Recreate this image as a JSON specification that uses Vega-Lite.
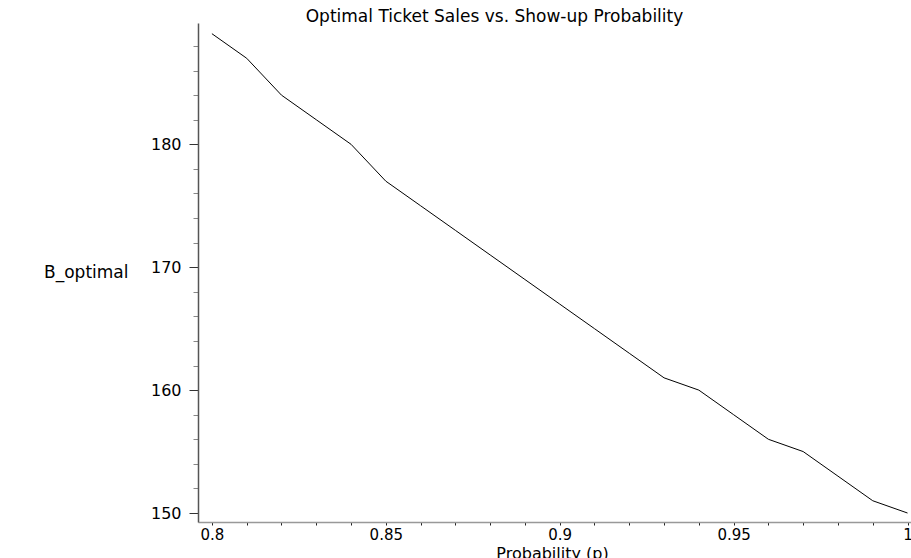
{
  "$schema": "https://vega.github.io/schema/vega-lite/v6.json",
  "autosize": {"type": "none"},
  "width": 713,
  "height": 499,
  "padding": {"left": 198, "top": 23, "right": 0, "bottom": 36},
  "background": "white",
  "title": {
    "text": "Optimal Ticket Sales vs. Show-up Probability",
    "anchor": "middle",
    "frame": "group",
    "dx": -60,
    "dy": 20,
    "offset": 4,
    "baseline": "alphabetic",
    "font": "DejaVu Sans",
    "fontSize": 17,
    "fontWeight": "normal",
    "color": "#000"
  },
  "data": {
    "values": [
      {"p": 0.80, "B": 189},
      {"p": 0.81, "B": 187},
      {"p": 0.82, "B": 184},
      {"p": 0.83, "B": 182},
      {"p": 0.84, "B": 180},
      {"p": 0.85, "B": 177},
      {"p": 0.86, "B": 175},
      {"p": 0.87, "B": 173},
      {"p": 0.88, "B": 171},
      {"p": 0.89, "B": 169},
      {"p": 0.90, "B": 167},
      {"p": 0.91, "B": 165},
      {"p": 0.92, "B": 163},
      {"p": 0.93, "B": 161},
      {"p": 0.94, "B": 160},
      {"p": 0.95, "B": 158},
      {"p": 0.96, "B": 156},
      {"p": 0.97, "B": 155},
      {"p": 0.98, "B": 153},
      {"p": 0.99, "B": 151},
      {"p": 1.00, "B": 150}
    ]
  },
  "mark": {"type": "line", "color": "#000", "strokeWidth": 1},
  "encoding": {
    "x": {
      "field": "p",
      "type": "quantitative",
      "scale": {"domain": [0.796, 1.001], "nice": false, "zero": false},
      "axis": {
        "title": "Probability (p)",
        "values": [0.8, 0.81, 0.82, 0.83, 0.84, 0.85, 0.86, 0.87, 0.88, 0.89, 0.9, 0.91, 0.92, 0.93, 0.94, 0.95, 0.96, 0.97, 0.98, 0.99, 1.0],
        "labelExpr": "round(datum.value*100) % 5 == 0 ? format(datum.value, '~g') : ''",
        "grid": false,
        "tickSize": 3,
        "tickColor": "#222",
        "domainColor": "#999",
        "domainWidth": 1.5,
        "labelPadding": 2,
        "labelBaseline": "top",
        "labelFont": "DejaVu Sans",
        "labelFontSize": 15,
        "labelColor": "#000",
        "labelOverlap": false,
        "titleFont": "DejaVu Sans",
        "titleFontSize": 16,
        "titleFontWeight": "normal",
        "titleColor": "#000",
        "titleBaseline": "top",
        "titleX": 354,
        "titleY": 23,
        "titleAnchor": "middle"
      }
    },
    "y": {
      "field": "B",
      "type": "quantitative",
      "scale": {"domain": [149.27, 189.87], "nice": false, "zero": false},
      "axis": {
        "title": "B_optimal",
        "values": [150, 152, 154, 156, 158, 160, 162, 164, 166, 168, 170, 172, 174, 176, 178, 180, 182, 184, 186, 188],
        "labelExpr": "datum.value % 10 == 0 ? format(datum.value, 'd') : ''",
        "grid": false,
        "tickSize": {"condition": {"test": "datum.value % 10 == 0", "value": 9}, "value": 5},
        "tickColor": {"condition": {"test": "datum.value % 10 == 0", "value": "#333"}, "value": "#888"},
        "domainColor": "#555",
        "domainWidth": 1.5,
        "labelPadding": 8,
        "labelFont": "DejaVu Sans",
        "labelFontSize": 16,
        "labelColor": "#000",
        "labelOverlap": false,
        "titleFont": "DejaVu Sans",
        "titleFontSize": 17,
        "titleFontWeight": "normal",
        "titleColor": "#000",
        "titleAngle": 0,
        "titleAlign": "right",
        "titleBaseline": "alphabetic",
        "titleX": -70,
        "titleY": 254
      }
    }
  },
  "config": {
    "view": {"stroke": null}
  }
}
